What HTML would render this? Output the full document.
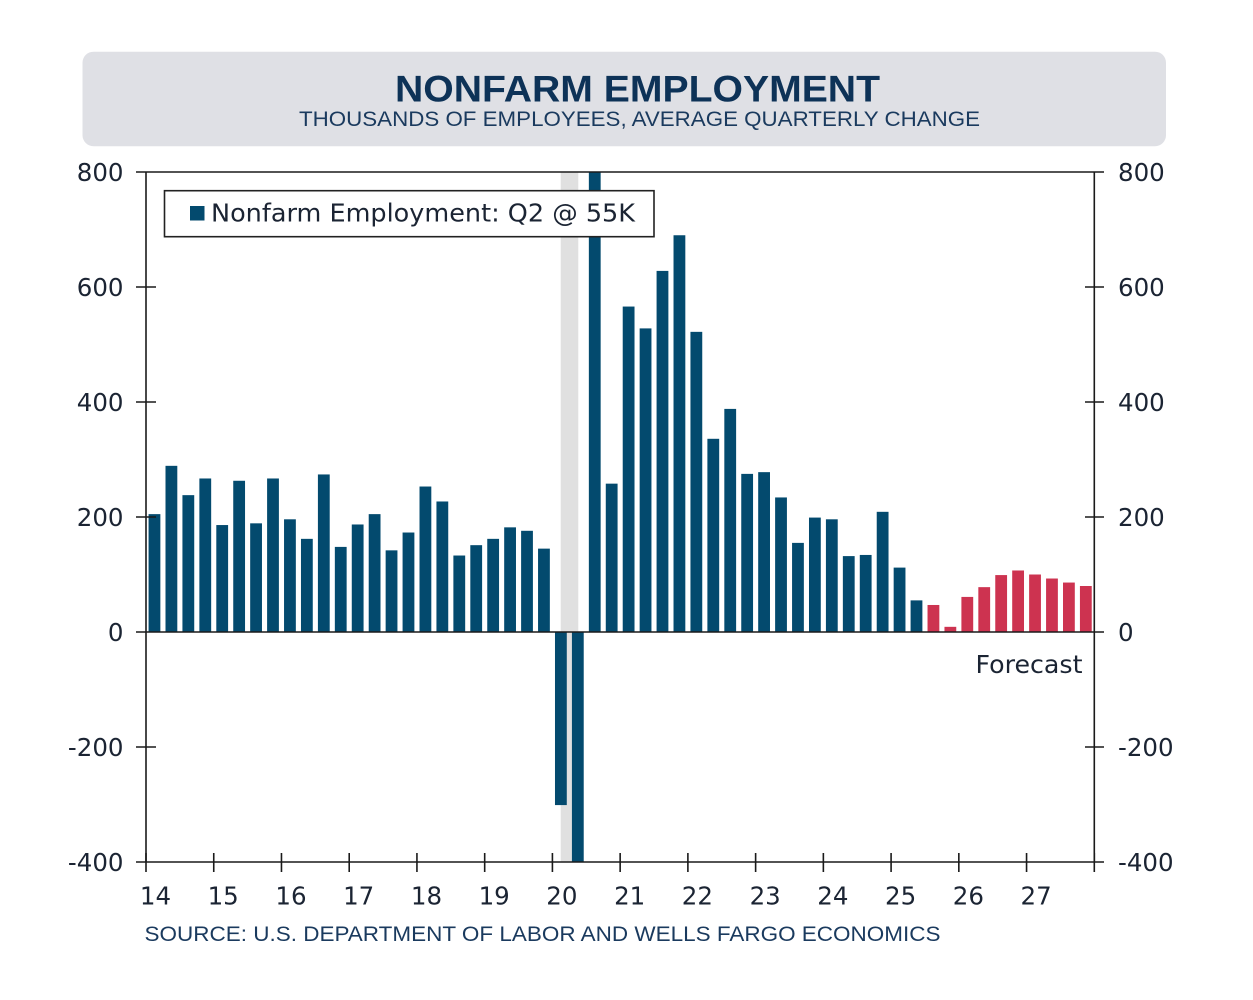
<!DOCTYPE html>
<html>
<head>
<meta charset="utf-8">
<style>
  html, body { margin: 0; padding: 0; background: #ffffff; }
  body { width: 1253px; height: 1000px; overflow: hidden; }
  svg { display: block; }
</style>
</head>
<body>
<svg width="1253" height="1000" viewBox="0 0 1253 1000" xmlns="http://www.w3.org/2000/svg">
  <rect x="0" y="0" width="1253" height="1000" fill="#ffffff"/>
  <!-- Title box -->
  <rect x="82.5" y="51.7" width="1083.5" height="94.5" rx="11" ry="11" fill="#dfe0e5"/>
  <text x="395" y="101.5" font-family="'Liberation Sans', sans-serif" font-weight="bold" font-size="37" fill="#0d3257" textLength="485" lengthAdjust="spacingAndGlyphs">NONFARM EMPLOYMENT</text>
  <text x="299" y="126" font-family="'Liberation Sans', sans-serif" font-size="21" fill="#1a3a5e" textLength="681" lengthAdjust="spacingAndGlyphs">THOUSANDS OF EMPLOYEES, AVERAGE QUARTERLY CHANGE</text>

  <!-- Recession shading -->
  <rect x="560.7" y="172" width="17.6" height="690" fill="#e0e0e0"/>

  <!-- Bars -->
  <g id="bars"></g>

  <!-- Axes / frame -->
  <g stroke="#1a1a1a" stroke-width="1.6" fill="none">
    <line x1="146" y1="172" x2="146" y2="862"/>
    <line x1="1094.3" y1="172" x2="1094.3" y2="862"/>
    <line x1="136" y1="172" x2="1104" y2="172"/>
    <line x1="136" y1="862" x2="1104" y2="862"/>
    <line x1="136" y1="632" x2="1104" y2="632"/>
    <!-- y ticks -->
    <line x1="136" y1="287" x2="156" y2="287"/>
    <line x1="136" y1="402" x2="156" y2="402"/>
    <line x1="136" y1="517" x2="156" y2="517"/>
    <line x1="136" y1="747" x2="156" y2="747"/>
    <line x1="1085" y1="287" x2="1104" y2="287"/>
    <line x1="1085" y1="402" x2="1104" y2="402"/>
    <line x1="1085" y1="517" x2="1104" y2="517"/>
    <line x1="1085" y1="747" x2="1104" y2="747"/>
  </g>
  <g id="xticks" stroke="#1a1a1a" stroke-width="1.6"></g>

  <!-- Legend -->
  <rect x="164.5" y="190.7" width="489.5" height="46" fill="#ffffff" stroke="#222222" stroke-width="1.6"/>
  <rect x="190" y="206" width="14.5" height="14.5" fill="#034a6e"/>
  <text x="211" y="221.5" font-family="'DejaVu Sans', Verdana, sans-serif" font-size="24.5" fill="#1b2433" textLength="424" lengthAdjust="spacingAndGlyphs">Nonfarm Employment: Q2 @ 55K</text>

  <!-- Forecast label -->
  <text x="975.5" y="673" font-family="'DejaVu Sans', Verdana, sans-serif" font-size="24.5" fill="#1b2433" textLength="107" lengthAdjust="spacingAndGlyphs">Forecast</text>

  <!-- Left y labels -->
  <g font-family="'DejaVu Sans', Verdana, sans-serif" font-size="24.5" fill="#1b2433" text-anchor="end">
    <text x="123.5" y="181">800</text>
    <text x="123.5" y="296">600</text>
    <text x="123.5" y="411">400</text>
    <text x="123.5" y="526">200</text>
    <text x="123.5" y="641">0</text>
    <text x="123.5" y="756">-200</text>
    <text x="123.5" y="871">-400</text>
  </g>
  <!-- Right y labels -->
  <g font-family="'DejaVu Sans', Verdana, sans-serif" font-size="24.5" fill="#1b2433" text-anchor="start">
    <text x="1118" y="181">800</text>
    <text x="1118" y="296">600</text>
    <text x="1118" y="411">400</text>
    <text x="1118" y="526">200</text>
    <text x="1118" y="641">0</text>
    <text x="1118" y="756">-200</text>
    <text x="1118" y="871">-400</text>
  </g>
  <!-- X labels -->
  <g font-family="'DejaVu Sans', Verdana, sans-serif" font-size="24.5" fill="#1b2433" text-anchor="middle">
    <text x="155.5" y="904.5">14</text>
    <text x="223.2" y="904.5">15</text>
    <text x="291" y="904.5">16</text>
    <text x="358.7" y="904.5">17</text>
    <text x="426.5" y="904.5">18</text>
    <text x="494.2" y="904.5">19</text>
    <text x="561.9" y="904.5">20</text>
    <text x="629.7" y="904.5">21</text>
    <text x="697.4" y="904.5">22</text>
    <text x="765.2" y="904.5">23</text>
    <text x="832.9" y="904.5">24</text>
    <text x="900.6" y="904.5">25</text>
    <text x="968.4" y="904.5">26</text>
    <text x="1036.1" y="904.5">27</text>
  </g>

  <!-- Source -->
  <text x="144.5" y="941" font-family="'Liberation Sans', sans-serif" font-size="21" fill="#1a3a5e" textLength="796" lengthAdjust="spacingAndGlyphs">SOURCE: U.S. DEPARTMENT OF LABOR AND WELLS FARGO ECONOMICS</text>

  <!-- Static bars (generated) -->
  <g id="staticbars">
    <!-- bars inserted below -->
  </g>
</svg>
<script>
(function(){
  var data = [205,289,238,267, 186,263,189,267, 196,162,274,148, 187,205,142,173,
              253,227,133,151, 162,182,176,145, -301,-2000,2000,258,
              566,528,628,690, 522,336,388,275, 278,234,155,199, 196,132,134,209,
              112,55,47,9, 61,78,99,107, 100,93,86,80];
  var x0 = 146, qw = 948.3/56, bw = 11.8;
  function y(v){ return 632 - v*0.575; }
  var ns = "http://www.w3.org/2000/svg";
  var g = document.getElementById("bars");
  for (var i=0;i<data.length;i++){
    var v = data[i];
    if (v > 800) v = 800;
    if (v < -400) v = -400;
    var cx = x0 + (i+0.5)*qw;
    var r = document.createElementNS(ns,"rect");
    var top = Math.min(y(v), 632), bot = Math.max(y(v), 632);
    r.setAttribute("x", (cx-bw/2).toFixed(2));
    r.setAttribute("y", top.toFixed(2));
    r.setAttribute("width", bw);
    r.setAttribute("height", (bot-top).toFixed(2));
    r.setAttribute("fill", i >= 46 ? "#cd3350" : "#034a6e");
    g.appendChild(r);
  }
  var t = document.getElementById("xticks");
  for (var k=0;k<=14;k++){
    var xx = x0 + k*4*qw;
    var l = document.createElementNS(ns,"line");
    l.setAttribute("x1", xx.toFixed(2)); l.setAttribute("x2", xx.toFixed(2));
    l.setAttribute("y1", 853); l.setAttribute("y2", 872);
    t.appendChild(l);
  }
})();
</script>
</body>
</html>
